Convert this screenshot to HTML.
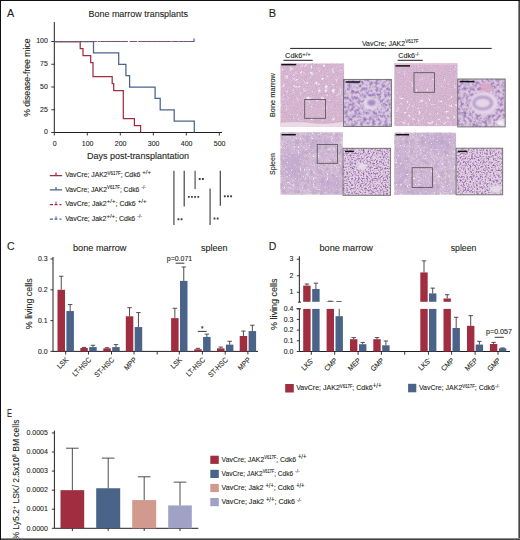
<!DOCTYPE html>
<html><head><meta charset="utf-8"><style>
html,body{margin:0;padding:0;background:#fff;}
body{width:520px;height:540px;overflow:hidden;}
svg{display:block;}
text{font-family:"Liberation Sans",sans-serif;fill:#231f20;stroke:#231f20;stroke-width:0.1px;}
</style></head><body>
<svg width="520" height="540" viewBox="0 0 520 540">
<rect x="0" y="0" width="520" height="540" fill="#fff"/>
<g id="A">
<text x="7.0" y="16.7" font-size="10.8" text-anchor="start" >A</text>
<text x="88.5" y="17.3" font-size="9.6" text-anchor="start" textLength="99.5" lengthAdjust="spacingAndGlyphs" >Bone marrow transplants</text>
<path d="M54.3,22 V132.5 H222" fill="none" stroke="#231f20" stroke-width="1"/>
<line x1="51.3" y1="132.5" x2="54.3" y2="132.5" stroke="#231f20" stroke-width="0.9"/>
<text x="47.9" y="134.3" font-size="7.8" text-anchor="end" textLength="3.9" lengthAdjust="spacingAndGlyphs" >0</text>
<line x1="51.3" y1="109.75" x2="54.3" y2="109.75" stroke="#231f20" stroke-width="0.9"/>
<text x="47.9" y="111.55" font-size="7.8" text-anchor="end" textLength="7.8" lengthAdjust="spacingAndGlyphs" >25</text>
<line x1="51.3" y1="87.0" x2="54.3" y2="87.0" stroke="#231f20" stroke-width="0.9"/>
<text x="47.9" y="88.8" font-size="7.8" text-anchor="end" textLength="7.8" lengthAdjust="spacingAndGlyphs" >50</text>
<line x1="51.3" y1="64.25" x2="54.3" y2="64.25" stroke="#231f20" stroke-width="0.9"/>
<text x="47.9" y="66.05" font-size="7.8" text-anchor="end" textLength="7.8" lengthAdjust="spacingAndGlyphs" >75</text>
<line x1="51.3" y1="41.5" x2="54.3" y2="41.5" stroke="#231f20" stroke-width="0.9"/>
<text x="47.9" y="43.3" font-size="7.8" text-anchor="end" textLength="11.7" lengthAdjust="spacingAndGlyphs" >100</text>
<line x1="54.3" y1="132.5" x2="54.3" y2="135.5" stroke="#231f20" stroke-width="0.9"/>
<text x="54.599999999999994" y="145.8" font-size="7.8" text-anchor="middle" textLength="3.9" lengthAdjust="spacingAndGlyphs" >0</text>
<line x1="87.3" y1="132.5" x2="87.3" y2="135.5" stroke="#231f20" stroke-width="0.9"/>
<text x="87.6" y="145.8" font-size="7.8" text-anchor="middle" textLength="11.7" lengthAdjust="spacingAndGlyphs" >100</text>
<line x1="120.3" y1="132.5" x2="120.3" y2="135.5" stroke="#231f20" stroke-width="0.9"/>
<text x="120.6" y="145.8" font-size="7.8" text-anchor="middle" textLength="11.7" lengthAdjust="spacingAndGlyphs" >200</text>
<line x1="153.3" y1="132.5" x2="153.3" y2="135.5" stroke="#231f20" stroke-width="0.9"/>
<text x="153.60000000000002" y="145.8" font-size="7.8" text-anchor="middle" textLength="11.7" lengthAdjust="spacingAndGlyphs" >300</text>
<line x1="186.3" y1="132.5" x2="186.3" y2="135.5" stroke="#231f20" stroke-width="0.9"/>
<text x="186.60000000000002" y="145.8" font-size="7.8" text-anchor="middle" textLength="11.7" lengthAdjust="spacingAndGlyphs" >400</text>
<line x1="219.3" y1="132.5" x2="219.3" y2="135.5" stroke="#231f20" stroke-width="0.9"/>
<text x="219.60000000000002" y="145.8" font-size="7.8" text-anchor="middle" textLength="11.7" lengthAdjust="spacingAndGlyphs" >500</text>
<text x="86.9" y="158.8" font-size="8.6" text-anchor="start" textLength="102" lengthAdjust="spacingAndGlyphs" >Days post-transplantation</text>
<text transform="translate(29.7,77.6) rotate(-90)" font-size="8.6" text-anchor="middle" textLength="78.4" lengthAdjust="spacingAndGlyphs">% disease-free mice</text>
<path d="M54.3,41.5 H80.2 V48.5 H83 V55.5 H90.7 V62.5 H93 V76.5 H112.2 V83.5 H113.7 V90.5 H123.3 V118.5 H134.4 V125.5 H140.6 V132.5" fill="none" stroke="#a12e40" stroke-width="1.25"/>
<path d="M54.3,41.5 H93.5 V52.9 H118.7 V64.25 H125.9 V75.6 H129.6 V87 H155.1 V98.4 H160.2 V109.75 H174.2 V121.1 H194.3 V132.5" fill="none" stroke="#4a6389" stroke-width="1.25"/>
<path d="M54.3,41.5 H96.8 M97.7,41.5 H99.8 M100.9,41.5 H128 M129.5,41.5 H137 M138.2,41.5 H171.5 M173,41.5 H178 M179.2,41.5 H194 V38.5" fill="none" stroke="#4a6389" stroke-width="1.2"/>
<path d="M57.5,41.5 H192" fill="none" stroke="#d23a50" stroke-width="1.2" stroke-dasharray="1.7 3.5"/>
<path d="M49.8,175.5 H62.1 M56,175.5 V172.6" fill="none" stroke="#a12e40" stroke-width="1.25"/>
<text x="65.2" y="177.3" font-size="7.1" text-anchor="start" textLength="85.7" lengthAdjust="spacingAndGlyphs" >VavCre; JAK2<tspan font-size="4.6" dy="-2.8">V617F</tspan><tspan dy="2.8">; Cdk6 </tspan><tspan font-size="6.2" dy="-3">+/+</tspan></text>
<path d="M49.8,189.8 H62.1 M56,189.8 V186.9" fill="none" stroke="#4a6389" stroke-width="1.25"/>
<text x="65.2" y="191.60000000000002" font-size="7.1" text-anchor="start" textLength="80.7" lengthAdjust="spacingAndGlyphs" >VavCre; JAK2<tspan font-size="4.6" dy="-2.8">V617F</tspan><tspan dy="2.8">; Cdk6 </tspan><tspan font-size="5.2" dy="-3">-/-</tspan></text>
<path d="M49.8,204.5 H53 M54.5,204.5 H57.5 M59.5,204.5 H61.5" stroke="#a12e40" stroke-width="1.25"/>
<path d="M56,204.5 V201.6" stroke="#a12e40" stroke-width="1"/>
<text x="65.2" y="206.3" font-size="7.1" text-anchor="start" textLength="81.3" lengthAdjust="spacingAndGlyphs" >VavCre; Jak2<tspan font-size="6.2" dy="-3">+/+</tspan><tspan dy="3">; Cdk6 </tspan><tspan font-size="6.2" dy="-3">+/+</tspan></text>
<path d="M49.8,219.2 H53 M54.5,219.2 H57.5 M59.5,219.2 H61.5" stroke="#4a6389" stroke-width="1.25"/>
<path d="M56,219.2 V216.29999999999998" stroke="#4a6389" stroke-width="1"/>
<text x="65.2" y="221.0" font-size="7.1" text-anchor="start" textLength="76.8" lengthAdjust="spacingAndGlyphs" >VavCre; Jak2<tspan font-size="6.2" dy="-3">+/+</tspan><tspan dy="3">; Cdk6 </tspan><tspan font-size="5.2" dy="-3">-/-</tspan></text>
<line x1="173.9" y1="170.8" x2="173.9" y2="224.9" stroke="#6e6e6e" stroke-width="1.5"/>
<line x1="184.2" y1="170.8" x2="184.2" y2="206.6" stroke="#3c3c3c" stroke-width="1.15"/>
<line x1="195.1" y1="170.8" x2="195.1" y2="188.9" stroke="#666" stroke-width="1.35"/>
<line x1="210.1" y1="188.5" x2="210.1" y2="224.9" stroke="#6e6e6e" stroke-width="1.5"/>
<line x1="220.3" y1="170.8" x2="220.3" y2="205.7" stroke="#3c3c3c" stroke-width="1.15"/>
<rect x="177.45" y="218.25" width="1.9" height="1.9" rx="0.5" fill="#3d3d3d"/>
<rect x="180.60" y="218.25" width="1.9" height="1.9" rx="0.5" fill="#3d3d3d"/>
<rect x="187.85" y="195.95" width="1.9" height="1.9" rx="0.5" fill="#3d3d3d"/>
<rect x="191.00" y="195.95" width="1.9" height="1.9" rx="0.5" fill="#3d3d3d"/>
<rect x="194.15" y="195.95" width="1.9" height="1.9" rx="0.5" fill="#3d3d3d"/>
<rect x="197.30" y="195.95" width="1.9" height="1.9" rx="0.5" fill="#3d3d3d"/>
<rect x="198.75" y="178.05" width="1.9" height="1.9" rx="0.5" fill="#3d3d3d"/>
<rect x="201.90" y="178.05" width="1.9" height="1.9" rx="0.5" fill="#3d3d3d"/>
<rect x="213.55" y="217.55" width="1.9" height="1.9" rx="0.5" fill="#3d3d3d"/>
<rect x="216.70" y="217.55" width="1.9" height="1.9" rx="0.5" fill="#3d3d3d"/>
<rect x="223.85" y="195.25" width="1.9" height="1.9" rx="0.5" fill="#3d3d3d"/>
<rect x="227.00" y="195.25" width="1.9" height="1.9" rx="0.5" fill="#3d3d3d"/>
<rect x="230.15" y="195.25" width="1.9" height="1.9" rx="0.5" fill="#3d3d3d"/>
</g>
<g id="B">
<text x="268.8" y="16.7" font-size="11" text-anchor="start" >B</text>
<text x="361.9" y="45.8" font-size="7.4" text-anchor="start" textLength="56.6" lengthAdjust="spacingAndGlyphs" >VavCre; JAK2<tspan font-size="4.8" dy="-3.2">V617F</tspan></text>
<line x1="290.2" y1="48.4" x2="491.7" y2="48.4" stroke="#231f20" stroke-width="1"/>
<text x="285.1" y="58.3" font-size="7.2" text-anchor="start" textLength="25.6" lengthAdjust="spacingAndGlyphs" >Cdk6<tspan font-size="5.6" dy="-2.6">+/+</tspan></text>
<line x1="283.5" y1="60.3" x2="312.7" y2="60.3" stroke="#231f20" stroke-width="1"/>
<text x="398.3" y="58.4" font-size="7.2" text-anchor="start" textLength="21.5" lengthAdjust="spacingAndGlyphs" >Cdk6<tspan font-size="5" dy="-2.6">-/-</tspan></text>
<line x1="397.6" y1="60.3" x2="422.8" y2="60.3" stroke="#231f20" stroke-width="1"/>
<text transform="translate(275.3,95.1) rotate(-90)" font-size="7.6" text-anchor="middle" textLength="44" lengthAdjust="spacingAndGlyphs">Bone marrow</text>
<text transform="translate(275.3,164.1) rotate(-90)" font-size="7.6" text-anchor="middle" textLength="21.9" lengthAdjust="spacingAndGlyphs">Spleen</text>
<defs>
<filter id="fBM" x="0" y="0" width="1" height="1" color-interpolation-filters="sRGB">
 <feTurbulence type="fractalNoise" baseFrequency="0.9" numOctaves="2" seed="2" result="t"/>
 <feColorMatrix in="t" type="matrix" values="0 0 0 0 0.76  0 0 0 0 0.60  0 0 0 0 0.76  1.6 0 0 0 -0.62" result="dots"/>
 <feMerge><feMergeNode in="SourceGraphic"/><feMergeNode in="dots"/></feMerge>
</filter>
<filter id="fWH" x="0" y="0" width="1" height="1" color-interpolation-filters="sRGB">
 <feTurbulence type="fractalNoise" baseFrequency="0.28" numOctaves="3" seed="7" result="t2"/>
 <feColorMatrix in="t2" type="matrix" values="0 0 0 0 0.98  0 0 0 0 0.95  0 0 0 0 0.98  0 0 5 0 -3.05" result="wh"/>
</filter>
<filter id="fWH2" x="0" y="0" width="1" height="1" color-interpolation-filters="sRGB">
 <feTurbulence type="fractalNoise" baseFrequency="0.28" numOctaves="3" seed="11" result="t2"/>
 <feColorMatrix in="t2" type="matrix" values="0 0 0 0 0.98  0 0 0 0 0.95  0 0 0 0 0.98  0 0 5 0 -3.35" result="wh"/>
</filter>
<filter id="fSP" x="0" y="0" width="1" height="1" color-interpolation-filters="sRGB">
 <feTurbulence type="fractalNoise" baseFrequency="0.2" numOctaves="2" seed="13" result="tm"/>
 <feColorMatrix in="tm" type="matrix" values="0 0 0 0 0.75  0 0 0 0 0.66  0 0 0 0 0.79  2.2 0 0 0 -0.9" result="blob"/>
 <feTurbulence type="fractalNoise" baseFrequency="0.9" numOctaves="2" seed="4" result="t"/>
 <feColorMatrix in="t" type="matrix" values="0 0 0 0 0.74  0 0 0 0 0.60  0 0 0 0 0.76  1.6 0 0 0 -0.62" result="dots"/>
 <feTurbulence type="fractalNoise" baseFrequency="0.45" numOctaves="2" seed="21" result="tw"/>
 <feColorMatrix in="tw" type="matrix" values="0 0 0 0 0.97  0 0 0 0 0.95  0 0 0 0 0.98  0 0 6 0 -3.9" result="wh"/>
 <feMerge><feMergeNode in="SourceGraphic"/><feMergeNode in="blob"/><feMergeNode in="dots"/><feMergeNode in="wh"/></feMerge>
</filter>
<filter id="fBl" x="-0.5" y="-0.5" width="2" height="2"><feGaussianBlur stdDeviation="3.5"/></filter>
<filter id="fBl1" x="-0.5" y="-0.5" width="2" height="2"><feGaussianBlur stdDeviation="1.2"/></filter>
<filter id="fIN" x="0" y="0" width="1" height="1" color-interpolation-filters="sRGB">
 <feTurbulence type="fractalNoise" baseFrequency="0.33" numOctaves="2" seed="5" result="t"/>
 <feColorMatrix in="t" type="matrix" values="0 0 0 0 0.60  0 0 0 0 0.48  0 0 0 0 0.72  2.6 0 0 0 -1.0" result="dots"/>
</filter>
<filter id="fIN2" x="0" y="0" width="1" height="1" color-interpolation-filters="sRGB">
 <feTurbulence type="fractalNoise" baseFrequency="0.6" numOctaves="2" seed="8" result="t"/>
 <feColorMatrix in="t" type="matrix" values="0 0 0 0 0.56  0 0 0 0 0.40  0 0 0 0 0.68  3 0 0 0 -1.3" result="dots"/>
</filter>
<clipPath id="cBM1"><rect x="280.3" y="63.3" width="63.9" height="63.4"/></clipPath>
<clipPath id="cBM2"><rect x="394.2" y="63.3" width="63.5" height="62.9"/></clipPath>
<clipPath id="cSP1"><rect x="280.3" y="132.2" width="62.5" height="62.5"/></clipPath>
<clipPath id="cSP2"><rect x="394.2" y="132.5" width="61.9" height="62.3"/></clipPath>
<clipPath id="cIN1"><rect x="343.6" y="79.4" width="47.8" height="47"/></clipPath>
<clipPath id="cIN2"><rect x="457.7" y="79" width="47.5" height="47.9"/></clipPath>
<clipPath id="cIN3"><rect x="343" y="148.3" width="47.6" height="47"/></clipPath>
<clipPath id="cIN4"><rect x="456.1" y="148.2" width="46.6" height="46.6"/></clipPath>
</defs>
<g clip-path="url(#cBM1)">
<rect x="280.3" y="63.3" width="63.90" height="63.40" fill="#d9bbd3" filter="url(#fBM)"/>
<rect x="280.3" y="64" width="63.90" height="37.00" fill="#000" filter="url(#fWH)"/>
<rect x="280.3" y="101" width="63.90" height="20.00" fill="#000" filter="url(#fWH2)"/>
<path d="M280.3,122.3 Q300,120.8 312,122.8 T344.2,121.3 V126.7 H280.3 Z" fill="#ecdae6"/>
<path d="M280.3,122.3 Q300,120.8 312,122.8 T344.2,121.3" fill="none" stroke="#d9a8c6" stroke-width="0.6"/>
</g>
<line x1="281.3" y1="64.6" x2="296.2" y2="64.6" stroke="#111" stroke-width="1.5"/>
<rect x="304.7" y="99.4" width="20.90" height="18.90" fill="none" stroke="#505050" stroke-width="0.8"/>
<g clip-path="url(#cIN1)">
<rect x="343.6" y="79.4" width="47.80" height="47.00" fill="#dac8e0"/>
<rect x="343.6" y="79.4" width="47.80" height="47.00" fill="#000" filter="url(#fIN)"/>
<ellipse cx="370.9" cy="103.5" rx="7.5" ry="6.3" fill="#e9dcec" filter="url(#fBl1)"/>
<ellipse cx="371.6" cy="102.8" rx="4.2" ry="3.2" fill="#a58cc4" filter="url(#fBl1)"/>
</g>
<rect x="343.6" y="79.4" width="47.80" height="47.00" fill="none" stroke="#6a6a6a" stroke-width="0.9"/>
<line x1="345.6" y1="82" x2="360.3" y2="82" stroke="#111" stroke-width="1.5"/>
<g clip-path="url(#cSP1)">
<rect x="280.3" y="132.2" width="62.50" height="62.50" fill="#d8c6da"/>
<ellipse cx="293" cy="166" rx="11" ry="14" fill="#c8b2d6" filter="url(#fBl)"/>
<ellipse cx="330" cy="184" rx="13" ry="9" fill="#ccb6d8" filter="url(#fBl)"/>
<ellipse cx="318" cy="142" rx="12" ry="7" fill="#ceb8d8" filter="url(#fBl)"/>
<rect x="280.3" y="132.2" width="62.50" height="62.50" fill="#000" fill-opacity="0" filter="url(#fSP)"/>
</g>
<line x1="281.7" y1="134.7" x2="295.8" y2="134.7" stroke="#111" stroke-width="1.5"/>
<rect x="317.2" y="144.4" width="20.30" height="18.90" fill="none" stroke="#505050" stroke-width="0.8"/>
<g clip-path="url(#cIN3)">
<rect x="343" y="148.3" width="47.60" height="47.00" fill="#e3d0e0"/>
<rect x="343" y="148.3" width="47.60" height="47.00" fill="#000" filter="url(#fIN2)"/>
<ellipse cx="362" cy="166.5" rx="5" ry="3.5" fill="#e6dbe8" filter="url(#fBl1)"/>
</g>
<rect x="343" y="148.3" width="47.60" height="47.00" fill="none" stroke="#6a6a6a" stroke-width="0.9"/>
<line x1="345" y1="151.4" x2="353.9" y2="151.4" stroke="#111" stroke-width="1.5"/>
<g clip-path="url(#cBM2)">
<rect x="394.2" y="63.3" width="63.50" height="62.90" fill="#d9bbd3" filter="url(#fBM)"/>
<rect x="394.2" y="66" width="63.50" height="32.00" fill="#000" filter="url(#fWH2)"/>
<rect x="394.2" y="98" width="63.50" height="28.20" fill="#000" filter="url(#fWH)"/>
<rect x="394.2" y="63.3" width="63.5" height="1.8" fill="#e6bfd6"/>
</g>
<line x1="395.5" y1="65.9" x2="410" y2="65.9" stroke="#111" stroke-width="1.5"/>
<rect x="414" y="72.7" width="20.40" height="19.60" fill="none" stroke="#505050" stroke-width="0.8"/>
<g clip-path="url(#cIN2)">
<rect x="457.7" y="79" width="47.50" height="47.90" fill="#dbc6de"/>
<rect x="457.7" y="79" width="47.50" height="47.90" fill="#000" filter="url(#fIN)"/>
<ellipse cx="486" cy="87" rx="6" ry="4" fill="#dca8c4" filter="url(#fBl1)"/>
<ellipse cx="484" cy="103.3" rx="14" ry="11.5" fill="#e6d6e8" filter="url(#fBl1)"/>
<ellipse cx="482.7" cy="103" rx="9" ry="6" fill="none" stroke="#ae92c6" stroke-width="2.6" filter="url(#fBl1)"/>
<ellipse cx="501" cy="123" rx="4" ry="3.5" fill="#f4eef4" filter="url(#fBl1)"/>
</g>
<rect x="457.7" y="79" width="47.50" height="47.90" fill="none" stroke="#6a6a6a" stroke-width="0.9"/>
<line x1="459.6" y1="81.6" x2="474.4" y2="81.6" stroke="#111" stroke-width="1.5"/>
<g clip-path="url(#cSP2)">
<rect x="394.2" y="132.5" width="61.90" height="62.30" fill="#d8c6da"/>
<ellipse cx="438" cy="142" rx="14" ry="9" fill="#c8b2d6" filter="url(#fBl)"/>
<ellipse cx="400" cy="168" rx="6" ry="22" fill="#ccb6d8" filter="url(#fBl)"/>
<ellipse cx="420" cy="190" rx="14" ry="6" fill="#ccb6d8" filter="url(#fBl)"/>
<rect x="394.2" y="132.5" width="61.90" height="62.30" fill="#000" fill-opacity="0" filter="url(#fSP)"/>
</g>
<line x1="395.7" y1="134.7" x2="409" y2="134.7" stroke="#111" stroke-width="1.5"/>
<rect x="412.1" y="167.7" width="20.40" height="19.90" fill="none" stroke="#505050" stroke-width="0.8"/>
<g clip-path="url(#cIN4)">
<rect x="456.1" y="148.2" width="46.60" height="46.60" fill="#e3d0e0"/>
<rect x="456.1" y="148.2" width="46.60" height="46.60" fill="#000" filter="url(#fIN2)"/>
<ellipse cx="496" cy="189" rx="6" ry="4" fill="#e6dbe8" filter="url(#fBl1)"/>
</g>
<rect x="456.1" y="148.2" width="46.60" height="46.60" fill="none" stroke="#6a6a6a" stroke-width="0.9"/>
<line x1="458" y1="151.4" x2="467.4" y2="151.4" stroke="#111" stroke-width="1.5"/>
</g>
<g id="C">
<text x="7" y="250.2" font-size="10.5" text-anchor="start" >C</text>
<text x="73.0" y="250.6" font-size="8.4" text-anchor="start" textLength="53.4" lengthAdjust="spacingAndGlyphs" >bone marrow</text>
<text x="201" y="250.5" font-size="8.2" text-anchor="start" textLength="26.5" lengthAdjust="spacingAndGlyphs" >spleen</text>
<path d="M53,257 V351.4 H258" fill="none" stroke="#231f20" stroke-width="1"/>
<line x1="50.5" y1="351.4" x2="53" y2="351.4" stroke="#231f20" stroke-width="0.9"/>
<text x="47.6" y="353.5" font-size="7.8" text-anchor="end" textLength="9.7" lengthAdjust="spacingAndGlyphs" >0.0</text>
<line x1="50.5" y1="320.59999999999997" x2="53" y2="320.59999999999997" stroke="#231f20" stroke-width="0.9"/>
<text x="47.6" y="322.7" font-size="7.8" text-anchor="end" textLength="9.7" lengthAdjust="spacingAndGlyphs" >0.1</text>
<line x1="50.5" y1="289.79999999999995" x2="53" y2="289.79999999999995" stroke="#231f20" stroke-width="0.9"/>
<text x="47.6" y="291.9" font-size="7.8" text-anchor="end" textLength="9.7" lengthAdjust="spacingAndGlyphs" >0.2</text>
<line x1="50.5" y1="259.0" x2="53" y2="259.0" stroke="#231f20" stroke-width="0.9"/>
<text x="47.6" y="261.1" font-size="7.8" text-anchor="end" textLength="9.7" lengthAdjust="spacingAndGlyphs" >0.3</text>
<text transform="translate(32.1,303.8) rotate(-90)" font-size="8.8" text-anchor="middle" textLength="50.9" lengthAdjust="spacingAndGlyphs">% living cells</text>
<rect x="57.5" y="289.79999999999995" width="7.50" height="61.60" fill="#a12e40"/>
<path d="M61.25,289.79999999999995 V276.248 M59.05,276.248 H63.45" stroke="#3b3b3b" stroke-width="0.9" fill="none"/>
<rect x="66.4" y="311.05199999999996" width="7.50" height="40.35" fill="#4a6389"/>
<path d="M70.15,311.05199999999996 V304.584 M67.95,304.584 H72.35000000000001" stroke="#3b3b3b" stroke-width="0.9" fill="none"/>
<rect x="80.3" y="348.012" width="7.50" height="3.39" fill="#a12e40"/>
<path d="M84.05,348.012 V347.39599999999996 M81.85,347.39599999999996 H86.25" stroke="#3b3b3b" stroke-width="0.9" fill="none"/>
<rect x="89.2" y="347.08799999999997" width="7.50" height="4.31" fill="#4a6389"/>
<path d="M92.94999999999999,347.08799999999997 V345.23999999999995 M90.74999999999999,345.23999999999995 H95.14999999999999" stroke="#3b3b3b" stroke-width="0.9" fill="none"/>
<rect x="103.3" y="348.32" width="7.50" height="3.08" fill="#a12e40"/>
<path d="M107.05,348.32 V347.70399999999995 M104.85,347.70399999999995 H109.25" stroke="#3b3b3b" stroke-width="0.9" fill="none"/>
<rect x="112.2" y="347.08799999999997" width="7.50" height="4.31" fill="#4a6389"/>
<path d="M115.94999999999999,347.08799999999997 V344.62399999999997 M113.74999999999999,344.62399999999997 H118.14999999999999" stroke="#3b3b3b" stroke-width="0.9" fill="none"/>
<rect x="125.8" y="316.28799999999995" width="7.50" height="35.11" fill="#a12e40"/>
<path d="M129.55,316.28799999999995 V307.664 M127.35000000000001,307.664 H131.75" stroke="#3b3b3b" stroke-width="0.9" fill="none"/>
<rect x="134.7" y="327.068" width="7.50" height="24.33" fill="#4a6389"/>
<path d="M138.45,327.068 V312.592 M136.25,312.592 H140.64999999999998" stroke="#3b3b3b" stroke-width="0.9" fill="none"/>
<rect x="171.1" y="318.13599999999997" width="7.50" height="33.26" fill="#a12e40"/>
<path d="M174.85,318.13599999999997 V308.28 M172.65,308.28 H177.04999999999998" stroke="#3b3b3b" stroke-width="0.9" fill="none"/>
<rect x="180.0" y="280.868" width="7.50" height="70.53" fill="#4a6389"/>
<path d="M183.75,280.868 V267.008 M181.55,267.008 H185.95" stroke="#3b3b3b" stroke-width="0.9" fill="none"/>
<rect x="194.2" y="349.24399999999997" width="7.50" height="2.16" fill="#a12e40"/>
<path d="M197.95,349.24399999999997 V348.32 M195.75,348.32 H200.14999999999998" stroke="#3b3b3b" stroke-width="0.9" fill="none"/>
<rect x="203.1" y="336.924" width="7.50" height="14.48" fill="#4a6389"/>
<path d="M206.85,336.924 V334.152 M204.65,334.152 H209.04999999999998" stroke="#3b3b3b" stroke-width="0.9" fill="none"/>
<rect x="217.0" y="348.32" width="7.50" height="3.08" fill="#a12e40"/>
<path d="M220.75,348.32 V347.08799999999997 M218.55,347.08799999999997 H222.95" stroke="#3b3b3b" stroke-width="0.9" fill="none"/>
<rect x="225.9" y="344.62399999999997" width="7.50" height="6.78" fill="#4a6389"/>
<path d="M229.65,344.62399999999997 V341.236 M227.45000000000002,341.236 H231.85" stroke="#3b3b3b" stroke-width="0.9" fill="none"/>
<rect x="239.7" y="336.0" width="7.50" height="15.40" fill="#a12e40"/>
<path d="M243.45,336.0 V331.072 M241.25,331.072 H245.64999999999998" stroke="#3b3b3b" stroke-width="0.9" fill="none"/>
<rect x="248.6" y="331.072" width="7.50" height="20.33" fill="#4a6389"/>
<path d="M252.34999999999997,331.072 V325.21999999999997 M250.14999999999998,325.21999999999997 H254.54999999999995" stroke="#3b3b3b" stroke-width="0.9" fill="none"/>
<line x1="65.7" y1="351.4" x2="65.7" y2="354.5" stroke="#231f20" stroke-width="0.9"/>
<line x1="88.5" y1="351.4" x2="88.5" y2="354.5" stroke="#231f20" stroke-width="0.9"/>
<line x1="111.5" y1="351.4" x2="111.5" y2="354.5" stroke="#231f20" stroke-width="0.9"/>
<line x1="134.0" y1="351.4" x2="134.0" y2="354.5" stroke="#231f20" stroke-width="0.9"/>
<line x1="179.29999999999998" y1="351.4" x2="179.29999999999998" y2="354.5" stroke="#231f20" stroke-width="0.9"/>
<line x1="202.39999999999998" y1="351.4" x2="202.39999999999998" y2="354.5" stroke="#231f20" stroke-width="0.9"/>
<line x1="225.2" y1="351.4" x2="225.2" y2="354.5" stroke="#231f20" stroke-width="0.9"/>
<line x1="247.89999999999998" y1="351.4" x2="247.89999999999998" y2="354.5" stroke="#231f20" stroke-width="0.9"/>
<line x1="157.2" y1="351.4" x2="157.2" y2="354.5" stroke="#231f20" stroke-width="0.9"/>
<text transform="translate(68.9,360.4) rotate(-45)" font-size="7.3" text-anchor="end" textLength="12.69" lengthAdjust="spacingAndGlyphs">LSK</text>
<text transform="translate(91.7,360.4) rotate(-45)" font-size="7.3" text-anchor="end" textLength="23.39" lengthAdjust="spacingAndGlyphs">LT-HSC</text>
<text transform="translate(114.7,360.4) rotate(-45)" font-size="7.3" text-anchor="end" textLength="24.63" lengthAdjust="spacingAndGlyphs">ST-HSC</text>
<text transform="translate(137.2,360.4) rotate(-45)" font-size="7.3" text-anchor="end" textLength="14.55" lengthAdjust="spacingAndGlyphs">MPP</text>
<text transform="translate(182.49999999999997,360.4) rotate(-45)" font-size="7.3" text-anchor="end" textLength="12.69" lengthAdjust="spacingAndGlyphs">LSK</text>
<text transform="translate(205.59999999999997,360.4) rotate(-45)" font-size="7.3" text-anchor="end" textLength="23.39" lengthAdjust="spacingAndGlyphs">LT-HSC</text>
<text transform="translate(228.39999999999998,360.4) rotate(-45)" font-size="7.3" text-anchor="end" textLength="24.63" lengthAdjust="spacingAndGlyphs">ST-HSC</text>
<text transform="translate(251.09999999999997,360.4) rotate(-45)" font-size="7.3" text-anchor="end" textLength="14.55" lengthAdjust="spacingAndGlyphs">MPP</text>
<text x="179.5" y="261.2" font-size="6.8" text-anchor="middle" textLength="25.3" lengthAdjust="spacingAndGlyphs" >p=0.071</text>
<line x1="175.6" y1="263.2" x2="184.4" y2="263.2" stroke="#231f20" stroke-width="0.9"/>
<text x="202.3" y="331" font-size="6.3" text-anchor="middle" >*</text>
<line x1="197.8" y1="331.4" x2="206.7" y2="331.4" stroke="#231f20" stroke-width="0.9"/>
</g>
<g id="D">
<text x="268.7" y="250.2" font-size="10.5" text-anchor="start" >D</text>
<text x="319.5" y="250.5" font-size="8.2" text-anchor="start" textLength="53.5" lengthAdjust="spacingAndGlyphs" >bone marrow</text>
<text x="450.8" y="250.5" font-size="8.2" text-anchor="start" textLength="25.5" lengthAdjust="spacingAndGlyphs" >spleen</text>
<path d="M299.35,256.2 V302.3 M299.35,308.7 V351.5 H510" fill="none" stroke="#231f20" stroke-width="1"/>
<path d="M297.9,302.2 H301 M296.6,308.8 H301" fill="none" stroke="#231f20" stroke-width="0.9"/>
<line x1="296.8" y1="292.25" x2="299.25" y2="292.25" stroke="#231f20" stroke-width="0.9"/>
<text x="293.4" y="294.35" font-size="7.8" text-anchor="end" textLength="3.9" lengthAdjust="spacingAndGlyphs" >1</text>
<line x1="296.8" y1="275.75" x2="299.25" y2="275.75" stroke="#231f20" stroke-width="0.9"/>
<text x="293.4" y="277.85" font-size="7.8" text-anchor="end" textLength="3.9" lengthAdjust="spacingAndGlyphs" >2</text>
<line x1="296.8" y1="259.25" x2="299.25" y2="259.25" stroke="#231f20" stroke-width="0.9"/>
<text x="293.4" y="261.35" font-size="7.8" text-anchor="end" textLength="3.9" lengthAdjust="spacingAndGlyphs" >3</text>
<line x1="296.8" y1="351.5" x2="299.25" y2="351.5" stroke="#231f20" stroke-width="0.9"/>
<text x="293.4" y="353.6" font-size="7.8" text-anchor="end" textLength="9.7" lengthAdjust="spacingAndGlyphs" >0.0</text>
<line x1="296.8" y1="340.8" x2="299.25" y2="340.8" stroke="#231f20" stroke-width="0.9"/>
<text x="293.4" y="342.90000000000003" font-size="7.8" text-anchor="end" textLength="9.7" lengthAdjust="spacingAndGlyphs" >0.1</text>
<line x1="296.8" y1="330.1" x2="299.25" y2="330.1" stroke="#231f20" stroke-width="0.9"/>
<text x="293.4" y="332.20000000000005" font-size="7.8" text-anchor="end" textLength="9.7" lengthAdjust="spacingAndGlyphs" >0.2</text>
<line x1="296.8" y1="319.4" x2="299.25" y2="319.4" stroke="#231f20" stroke-width="0.9"/>
<text x="293.4" y="321.5" font-size="7.8" text-anchor="end" textLength="9.7" lengthAdjust="spacingAndGlyphs" >0.3</text>
<line x1="296.8" y1="308.7" x2="299.25" y2="308.7" stroke="#231f20" stroke-width="0.9"/>
<text x="293.4" y="310.8" font-size="7.8" text-anchor="end" textLength="9.7" lengthAdjust="spacingAndGlyphs" >0.4</text>
<text transform="translate(277.2,304.3) rotate(-90)" font-size="8.8" text-anchor="middle" textLength="51.6" lengthAdjust="spacingAndGlyphs">% living cells</text>
<rect x="303.2" y="308.9" width="7.4" height="42.60" fill="#a12e40"/>
<rect x="303.2" y="285.65" width="7.4" height="16.15" fill="#a12e40"/>
<path d="M306.9,285.65 V284.00 M304.7,284.00 H309.09999999999997" stroke="#3b3b3b" stroke-width="0.9" fill="none"/>
<rect x="312.2" y="308.9" width="7.4" height="42.60" fill="#4a6389"/>
<rect x="312.2" y="288.95" width="7.4" height="12.85" fill="#4a6389"/>
<path d="M315.9,288.95 V283.18 M313.7,283.18 H318.09999999999997" stroke="#3b3b3b" stroke-width="0.9" fill="none"/>
<rect x="326.6" y="308.9" width="7.4" height="42.60" fill="#a12e40"/>
<rect x="326.6" y="301.32" width="7.4" height="0.48" fill="#a12e40"/>
<path d="M330.3,301.32 V301.16 M328.1,301.16 H332.5" stroke="#3b3b3b" stroke-width="0.9" fill="none"/>
<rect x="335.5" y="316.19" width="7.4" height="35.31" fill="#4a6389"/>
<path d="M339.2,316.19 V308.90" stroke="#3b3b3b" stroke-width="0.9" fill="none"/>
<rect x="350.0" y="339.19" width="7.4" height="12.31" fill="#a12e40"/>
<path d="M353.7,339.19 V337.59 M351.5,337.59 H355.9" stroke="#3b3b3b" stroke-width="0.9" fill="none"/>
<rect x="359.0" y="344.22" width="7.4" height="7.28" fill="#4a6389"/>
<path d="M362.7,344.22 V342.40 M360.5,342.40 H364.9" stroke="#3b3b3b" stroke-width="0.9" fill="none"/>
<rect x="373.3" y="339.19" width="7.4" height="12.31" fill="#a12e40"/>
<path d="M377.0,339.19 V337.59 M374.8,337.59 H379.2" stroke="#3b3b3b" stroke-width="0.9" fill="none"/>
<rect x="382.2" y="345.29" width="7.4" height="6.21" fill="#4a6389"/>
<path d="M385.9,345.29 V341.01 M383.7,341.01 H388.09999999999997" stroke="#3b3b3b" stroke-width="0.9" fill="none"/>
<rect x="420.3" y="308.9" width="7.4" height="42.60" fill="#a12e40"/>
<rect x="420.3" y="272.45" width="7.4" height="29.35" fill="#a12e40"/>
<path d="M424.0,272.45 V260.90 M421.8,260.90 H426.2" stroke="#3b3b3b" stroke-width="0.9" fill="none"/>
<rect x="429.0" y="308.9" width="7.4" height="42.60" fill="#4a6389"/>
<rect x="429.0" y="293.40" width="7.4" height="8.40" fill="#4a6389"/>
<path d="M432.7,293.40 V288.12 M430.5,288.12 H434.9" stroke="#3b3b3b" stroke-width="0.9" fill="none"/>
<rect x="443.5" y="308.9" width="7.4" height="42.60" fill="#a12e40"/>
<rect x="443.5" y="298.52" width="7.4" height="3.28" fill="#a12e40"/>
<path d="M447.2,298.52 V294.73 M445.0,294.73 H449.4" stroke="#3b3b3b" stroke-width="0.9" fill="none"/>
<rect x="452.5" y="327.96" width="7.4" height="23.54" fill="#4a6389"/>
<path d="M456.2,327.96 V317.26 M454.0,317.26 H458.4" stroke="#3b3b3b" stroke-width="0.9" fill="none"/>
<rect x="467.0" y="325.82" width="7.4" height="25.68" fill="#a12e40"/>
<path d="M470.7,325.82 V315.65 M468.5,315.65 H472.9" stroke="#3b3b3b" stroke-width="0.9" fill="none"/>
<rect x="475.7" y="344.55" width="7.4" height="6.95" fill="#4a6389"/>
<path d="M479.4,344.55 V341.33 M477.2,341.33 H481.59999999999997" stroke="#3b3b3b" stroke-width="0.9" fill="none"/>
<rect x="489.9" y="344.01" width="7.4" height="7.49" fill="#a12e40"/>
<path d="M493.59999999999997,344.01 V342.40 M491.4,342.40 H495.79999999999995" stroke="#3b3b3b" stroke-width="0.9" fill="none"/>
<rect x="498.9" y="348.29" width="7.4" height="3.21" fill="#4a6389"/>
<path d="M502.59999999999997,348.29 V347.97 M500.4,347.97 H504.79999999999995" stroke="#3b3b3b" stroke-width="0.9" fill="none"/>
<line x1="336.3" y1="301.5" x2="341.6" y2="301.5" stroke="#555" stroke-width="0.9"/>
<line x1="311.3" y1="351.5" x2="311.3" y2="354.8" stroke="#231f20" stroke-width="0.9"/>
<line x1="334.70000000000005" y1="351.5" x2="334.70000000000005" y2="354.8" stroke="#231f20" stroke-width="0.9"/>
<line x1="358.1" y1="351.5" x2="358.1" y2="354.8" stroke="#231f20" stroke-width="0.9"/>
<line x1="381.40000000000003" y1="351.5" x2="381.40000000000003" y2="354.8" stroke="#231f20" stroke-width="0.9"/>
<line x1="428.40000000000003" y1="351.5" x2="428.40000000000003" y2="354.8" stroke="#231f20" stroke-width="0.9"/>
<line x1="451.6" y1="351.5" x2="451.6" y2="354.8" stroke="#231f20" stroke-width="0.9"/>
<line x1="475.1" y1="351.5" x2="475.1" y2="354.8" stroke="#231f20" stroke-width="0.9"/>
<line x1="498.0" y1="351.5" x2="498.0" y2="354.8" stroke="#231f20" stroke-width="0.9"/>
<line x1="404.7" y1="351.5" x2="404.7" y2="354.8" stroke="#231f20" stroke-width="0.9"/>
<text transform="translate(314.3,361.0) rotate(-45)" font-size="7.3" text-anchor="end" textLength="14.19" lengthAdjust="spacingAndGlyphs">LKS<tspan font-size="4.5" dy="-2.5">-</tspan></text>
<text transform="translate(337.70000000000005,361.0) rotate(-45)" font-size="7.3" text-anchor="end" textLength="14.92" lengthAdjust="spacingAndGlyphs">CMP</text>
<text transform="translate(361.1,361.0) rotate(-45)" font-size="7.3" text-anchor="end" textLength="14.55" lengthAdjust="spacingAndGlyphs">MEP</text>
<text transform="translate(384.40000000000003,361.0) rotate(-45)" font-size="7.3" text-anchor="end" textLength="15.30" lengthAdjust="spacingAndGlyphs">GMP</text>
<text transform="translate(431.40000000000003,361.0) rotate(-45)" font-size="7.3" text-anchor="end" textLength="14.19" lengthAdjust="spacingAndGlyphs">LKS<tspan font-size="4.5" dy="-2.5">-</tspan></text>
<text transform="translate(454.6,361.0) rotate(-45)" font-size="7.3" text-anchor="end" textLength="14.92" lengthAdjust="spacingAndGlyphs">CMP</text>
<text transform="translate(478.1,361.0) rotate(-45)" font-size="7.3" text-anchor="end" textLength="14.55" lengthAdjust="spacingAndGlyphs">MEP</text>
<text transform="translate(501.0,361.0) rotate(-45)" font-size="7.3" text-anchor="end" textLength="15.30" lengthAdjust="spacingAndGlyphs">GMP</text>
<text x="499" y="334.4" font-size="6.8" text-anchor="middle" textLength="26" lengthAdjust="spacingAndGlyphs" >p=0.057</text>
<line x1="494.7" y1="337.3" x2="503.7" y2="337.3" stroke="#231f20" stroke-width="0.9"/>
<rect x="285.2" y="384" width="8.6" height="8.5" fill="#a12e40"/>
<text x="296.2" y="390.3" font-size="7.6" text-anchor="start" textLength="85.3" lengthAdjust="spacingAndGlyphs" >VavCre; JAK2<tspan font-size="4.6" dy="-2.6">V617F</tspan><tspan dy="2.6">; Cdk6</tspan><tspan font-size="6.6" dy="-2.6">+/+</tspan></text>
<rect x="408.1" y="383.8" width="8.2" height="8.5" fill="#4a6389"/>
<text x="418.9" y="390.3" font-size="7.6" text-anchor="start" textLength="80.8" lengthAdjust="spacingAndGlyphs" >VavCre; JAK2<tspan font-size="4.6" dy="-2.6">V617F</tspan><tspan dy="2.6">; Cdk6</tspan><tspan font-size="5.4" dy="-2.6">-/-</tspan></text>
</g>
<g id="E">
<text x="7.1" y="417.0" font-size="10.8" text-anchor="start" textLength="5.0" lengthAdjust="spacingAndGlyphs" >E</text>
<path d="M54.4,430.6 V528.3 H198.3" fill="none" stroke="#231f20" stroke-width="1"/>
<line x1="51.8" y1="528.3" x2="54.4" y2="528.3" stroke="#231f20" stroke-width="0.9"/>
<text x="47.9" y="530.5" font-size="7.8" text-anchor="end" textLength="21.4" lengthAdjust="spacingAndGlyphs" >0.0000</text>
<line x1="51.8" y1="509.22999999999996" x2="54.4" y2="509.22999999999996" stroke="#231f20" stroke-width="0.9"/>
<text x="47.9" y="511.42999999999995" font-size="7.8" text-anchor="end" textLength="21.4" lengthAdjust="spacingAndGlyphs" >0.0001</text>
<line x1="51.8" y1="490.15999999999997" x2="54.4" y2="490.15999999999997" stroke="#231f20" stroke-width="0.9"/>
<text x="47.9" y="492.35999999999996" font-size="7.8" text-anchor="end" textLength="21.4" lengthAdjust="spacingAndGlyphs" >0.0002</text>
<line x1="51.8" y1="471.09" x2="54.4" y2="471.09" stroke="#231f20" stroke-width="0.9"/>
<text x="47.9" y="473.28999999999996" font-size="7.8" text-anchor="end" textLength="21.4" lengthAdjust="spacingAndGlyphs" >0.0003</text>
<line x1="51.8" y1="452.02" x2="54.4" y2="452.02" stroke="#231f20" stroke-width="0.9"/>
<text x="47.9" y="454.21999999999997" font-size="7.8" text-anchor="end" textLength="21.4" lengthAdjust="spacingAndGlyphs" >0.0004</text>
<line x1="51.8" y1="432.94999999999993" x2="54.4" y2="432.94999999999993" stroke="#231f20" stroke-width="0.9"/>
<text x="47.9" y="435.1499999999999" font-size="7.8" text-anchor="end" textLength="21.4" lengthAdjust="spacingAndGlyphs" >0.0005</text>
<text transform="translate(18.8,479.6) rotate(-90)" font-size="8.6" text-anchor="middle" textLength="120" lengthAdjust="spacingAndGlyphs">% Ly5.2<tspan font-size="5.5" dy="-2.6">+</tspan><tspan dy="2.6"> LSK/ 2.5x10</tspan><tspan font-size="5.5" dy="-2.6">6</tspan><tspan dy="2.6"> BM cells</tspan></text>
<rect x="60.5" y="490.16" width="23.70" height="38.14" fill="#a12e40"/>
<path d="M72.35,490.16 V448.21 M66.05,448.21 H78.64999999999999" stroke="#3b3b3b" stroke-width="0.9" fill="none"/>
<line x1="72.35" y1="528.3" x2="72.35" y2="531" stroke="#231f20" stroke-width="0.9"/>
<rect x="96.2" y="488.25" width="24.00" height="40.05" fill="#4a6389"/>
<path d="M108.2,488.25 V458.12 M101.9,458.12 H114.5" stroke="#3b3b3b" stroke-width="0.9" fill="none"/>
<line x1="108.2" y1="528.3" x2="108.2" y2="531" stroke="#231f20" stroke-width="0.9"/>
<rect x="132.2" y="500.08" width="24.00" height="28.22" fill="#d29a8e"/>
<path d="M144.2,500.08 V476.81 M137.89999999999998,476.81 H150.5" stroke="#3b3b3b" stroke-width="0.9" fill="none"/>
<line x1="144.2" y1="528.3" x2="144.2" y2="531" stroke="#231f20" stroke-width="0.9"/>
<rect x="168.2" y="505.42" width="23.60" height="22.88" fill="#9fa2c4"/>
<path d="M180.0,505.42 V482.15 M173.7,482.15 H186.3" stroke="#3b3b3b" stroke-width="0.9" fill="none"/>
<line x1="180.0" y1="528.3" x2="180.0" y2="531" stroke="#231f20" stroke-width="0.9"/>
<rect x="210.3" y="455.70" width="8.5" height="8.2" fill="#a12e40"/>
<text x="221.6" y="462.0" font-size="7.8" text-anchor="start" textLength="84.8" lengthAdjust="spacingAndGlyphs" >VavCre; JAK2<tspan font-size="4.6" dy="-2.8">V617F</tspan><tspan dy="2.8">; Cdk6 </tspan><tspan font-size="6.6" dy="-2.8">+/+</tspan></text>
<rect x="210.3" y="469.80" width="8.5" height="8.2" fill="#4a6389"/>
<text x="221.6" y="476.1" font-size="7.8" text-anchor="start" textLength="78" lengthAdjust="spacingAndGlyphs" >VavCre; JAK2<tspan font-size="4.6" dy="-2.8">V617F</tspan><tspan dy="2.8">; Cdk6 </tspan><tspan font-size="5.6" dy="-2.8">-/-</tspan></text>
<rect x="210.3" y="483.90" width="8.5" height="8.2" fill="#d29a8e"/>
<text x="221.6" y="490.2" font-size="7.8" text-anchor="start" textLength="82.9" lengthAdjust="spacingAndGlyphs" >VavCre; Jak2 <tspan font-size="6.4" dy="-2.4">+/+</tspan><tspan dy="2.4">; Cdk6 </tspan><tspan font-size="6.4" dy="-2.4">+/+</tspan></text>
<rect x="210.3" y="498.00" width="8.5" height="8.2" fill="#9fa2c4"/>
<text x="221.6" y="504.3" font-size="7.8" text-anchor="start" textLength="79.8" lengthAdjust="spacingAndGlyphs" >VavCre; Jak2 <tspan font-size="6.4" dy="-2.4">+/+</tspan><tspan dy="2.4">; Cdk6 </tspan><tspan font-size="5" dy="-2.4">-/-</tspan></text>
</g>
<rect x="518" y="0" width="1" height="540" fill="#8a8a8a"/>
<rect x="519" y="0" width="1" height="540" fill="#444"/>
<rect x="0" y="538" width="520" height="1" fill="#8a8a8a"/>
<rect x="0" y="539" width="520" height="1" fill="#444"/>
<rect x="0" y="0" width="520" height="1" fill="#111"/>
<rect x="0" y="0" width="1" height="540" fill="#111"/>
</svg>
</body></html>
